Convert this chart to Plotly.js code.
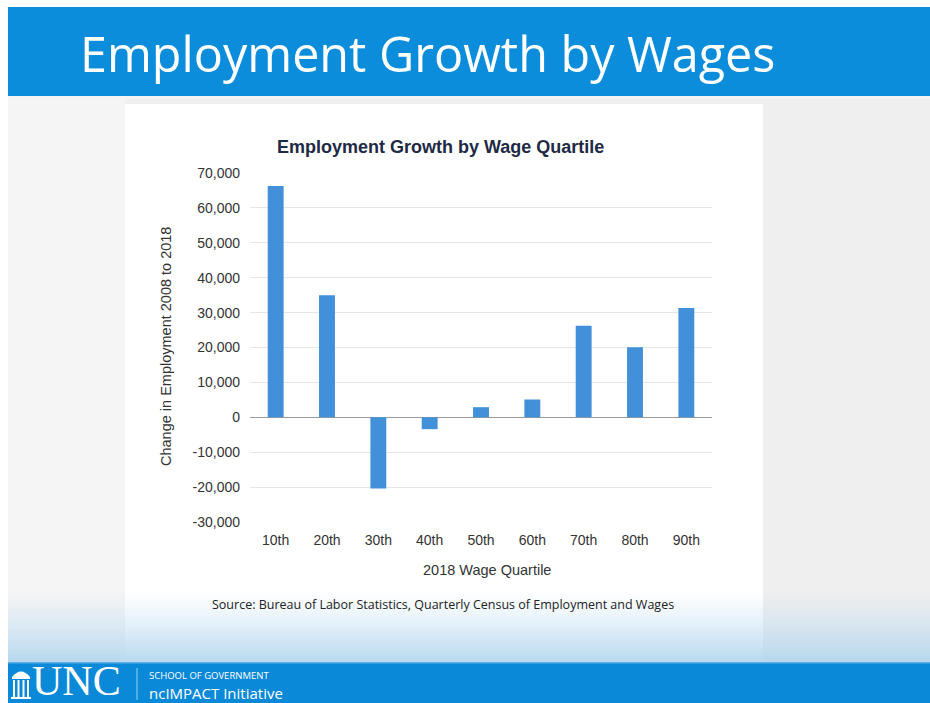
<!DOCTYPE html>
<html>
<head>
<meta charset="utf-8">
<script src="https://cdn.plot.ly/plotly-3.0.1.min.js"></script>
<style>html,body{margin:0;padding:0;background:#fff;}#chart{width:930px;height:703px;}</style>
</head>
<body>
<div id="chart"></div>
<script>
// ---- data ----
var categories = ["10th", "20th", "30th", "40th", "50th", "60th", "70th", "80th", "90th"];
var employmentChange = [66300, 35000, -20400, -3400, 2900, 5100, 26200, 20100, 31300];
var yTickValues = [-30000, -20000, -10000, 0, 10000, 20000, 30000, 40000, 50000, 60000, 70000];
var yTickLabels = ["-30,000", "-20,000", "-10,000", "0", "10,000", "20,000", "30,000", "40,000", "50,000", "60,000", "70,000"];

// ---- layout helpers (pixel -> paper) ----
var L = 250, R = 218, T = 173, B = 181;
var PW = 930 - L - R, PH = 703 - T - B;
function px(x) { return (x - L) / PW; }
function py(y) { return (703 - B - y) / PH; }
function rect(x0, y0, x1, y1, fill, layer) {
  return {type: "rect", xref: "paper", yref: "paper", x0: px(x0), x1: px(x1), y0: py(y1), y1: py(y0),
          fillcolor: fill, line: {width: 0}, layer: layer || "below"};
}
function line(x0, y0, x1, y1, color, w) {
  return {type: "line", xref: "paper", yref: "paper", x0: px(x0), x1: px(x1), y0: py(y0), y1: py(y1),
          line: {color: color, width: w}, layer: "below"};
}

var shapes = [
  rect(8, 97, 930, 662, "#efefef"),
  rect(8, 97, 125, 662, "#f5f5f5"),
  rect(125, 104, 763, 662, "#ffffff")
];
// soft light-blue fade toward the bottom band
var fadeTop = 588, fadeBottom = 662, steps = 37;
for (var i = 0; i < steps; i++) {
  var t = (i + 0.5) / steps;
  var a = Math.pow(t, 1.3) * 0.9;
  var y0 = fadeTop + (fadeBottom - fadeTop) * i / steps;
  var y1 = fadeTop + (fadeBottom - fadeTop) * (i + 1) / steps;
  var s = rect(8, y0, 930, y1, "rgba(176,213,238," + a.toFixed(3) + ")");
  s.line = {width: 0};
  shapes.push(s);
}
shapes = shapes.concat([
  rect(8, 7, 930, 97, "#0c8ddb"),
  rect(8, 96, 930, 99, "#f4f4f4"),
  rect(8, 662, 930, 703, "#0a89d8"),
  rect(8, 662, 930, 663.5, "#5ab0e6"),
  line(137, 668, 137, 700, "rgba(255,255,255,0.6)", 1),
  // small Old Well style icon
  {type: "path", xref: "paper", yref: "paper", layer: "below",
   path: "M " + px(12) + "," + py(677) + " Q " + px(21) + "," + py(666) + " " + px(30) + "," + py(677) + " Z",
   fillcolor: "#ffffff", line: {width: 0}},
  rect(12, 677, 30, 679, "#ffffff"),
  rect(13, 680, 15, 697, "#ffffff"),
  rect(17.5, 680, 19.5, 697, "#ffffff"),
  rect(22.5, 680, 24.5, 697, "#ffffff"),
  rect(27, 680, 29, 697, "#ffffff"),
  rect(11, 697, 31, 699, "#ffffff")
]);

var trace = {
  type: "bar",
  x: categories,
  y: employmentChange,
  marker: {color: "#4290da"},
  hoverinfo: "x+y"
};

var tickFont = {family: "Liberation Sans, Arial, sans-serif", size: 14, color: "#333"};

var layout = {
  width: 930, height: 703,
  margin: {l: L, r: R, t: T, b: B, pad: 0},
  paper_bgcolor: "#ffffff",
  plot_bgcolor: "rgba(0,0,0,0)",
  showlegend: false,
  bargap: 0.69,
  font: {family: "Liberation Sans, Arial, sans-serif", color: "#333333", size: 12},
  xaxis: {
    type: "category",
    showgrid: false,
    zeroline: false,
    showline: false,
    ticks: "",
    tickfont: tickFont,
    ticklabelstandoff: 8
  },
  yaxis: {
    range: [-30000, 70000],
    tickvals: yTickValues,
    ticktext: yTickLabels,
    showgrid: true,
    gridcolor: "#e6e6e6",
    gridwidth: 1,
    zeroline: true,
    zerolinecolor: "#9a9a9a",
    zerolinewidth: 1.2,
    showline: false,
    ticks: "",
    ticklabelstandoff: 9,
    tickfont: tickFont
  },
  shapes: shapes,
  annotations: [
    {text: "Employment Growth by Wages", xref: "paper", yref: "paper", x: px(78), y: py(53), xanchor: "left", yanchor: "middle",
     showarrow: false, font: {family: "Open Sans, Noto Sans, sans-serif", size: 48.5, color: "#ffffff"}},
    {text: "<b>Employment Growth by Wage Quartile</b>", xref: "paper", yref: "paper", x: px(440), y: py(147), xanchor: "center", yanchor: "middle",
     showarrow: false, font: {family: "Liberation Sans, Arial, sans-serif", size: 18, color: "#1e2a45"}},
    {text: "Change in Employment 2008 to 2018", xref: "paper", yref: "paper", x: px(166), y: py(347), xanchor: "center", yanchor: "middle",
     textangle: -90, showarrow: false, font: {family: "Liberation Sans, Arial, sans-serif", size: 14.5, color: "#333"}},
    {text: "2018 Wage Quartile", xref: "paper", yref: "paper", x: px(487), y: py(570), xanchor: "center", yanchor: "middle",
     showarrow: false, font: {family: "Liberation Sans, Arial, sans-serif", size: 14.5, color: "#333"}},
    {text: "Source: Bureau of Labor Statistics, Quarterly Census of Employment and Wages", xref: "paper", yref: "paper", x: px(443), y: py(604),
     xanchor: "center", yanchor: "middle", showarrow: false, font: {family: "Open Sans, Noto Sans, sans-serif", size: 12.5, color: "#222"}},
    {text: "UNC", xref: "paper", yref: "paper", x: px(31), y: py(681), xanchor: "left", yanchor: "middle", showarrow: false,
     borderpad: 0, font: {family: "Liberation Serif, serif", size: 42, color: "#ffffff"}},
    {text: "SCHOOL OF GOVERNMENT", xref: "paper", yref: "paper", x: px(147), y: py(675), xanchor: "left", yanchor: "middle", showarrow: false,
     font: {family: "Open Sans, sans-serif", size: 9.5, color: "#ffffff"}},
    {text: "ncIMPACT Initiative", xref: "paper", yref: "paper", x: px(147), y: py(693), xanchor: "left", yanchor: "middle", showarrow: false,
     font: {family: "Open Sans, sans-serif", size: 15, color: "#ffffff"}}
  ]
};

Plotly.newPlot("chart", [trace], layout, {displayModeBar: false, staticPlot: true});
</script>
</body>
</html>
